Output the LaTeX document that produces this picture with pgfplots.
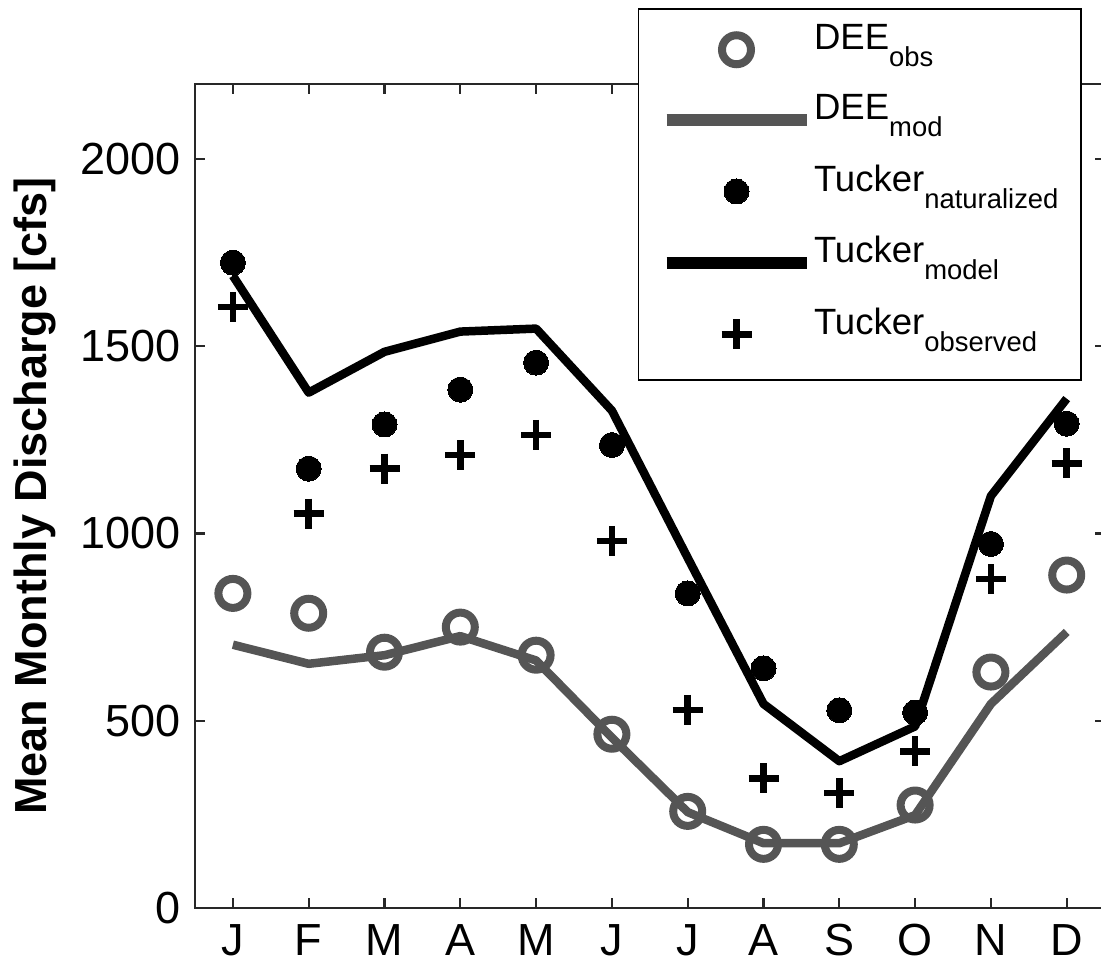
\documentclass[border=0pt]{standalone}
\usepackage{pgfplots}
\pgfplotsset{compat=1.18}
\usepackage{fontspec}
\setmainfont{Liberation Sans}
\definecolor{deegray}{RGB}{85,85,85}
\definecolor{axgray}{RGB}{40,40,40}
\newcommand{\sub}[1]{\raisebox{-4.8pt}{\fontsize{7.8}{8}\selectfont #1}}
\begin{document}
\begin{tikzpicture}
\begin{axis}[
  at={(0,0)}, anchor=south west,
  scale only axis,
  width=90.96mm, height=82.4mm,
  xmin=0.5, xmax=12.5, ymin=0, ymax=2200,
  xtick={1,2,3,4,5,6,7,8,9,10,11,12},
  xticklabels={J,F,M,A,M,J,J,A,S,O,N,D},
  ytick={0,500,1000,1500,2000},
  /pgf/number format/assume math mode=true,
  /pgf/number format/1000 sep={},
  tick align=inside,
  major tick length=1mm,
  tick style={axgray, line width=0.6pt},
  axis line style={axgray, line width=0.6pt},
  ticklabel style={font=\fontsize{12.8}{14}\selectfont, text=black},
  xticklabel style={inner sep=4.5pt},
  yticklabel style={inner sep=3.8pt},
  ylabel={\textbf{Mean Monthly Discharge [cfs]}},
  ylabel style={font=\fontsize{12.8}{14}\selectfont, at={(axis description cs:-0.1517,0.5)}, anchor=south, inner sep=0pt},
  legend style={
    at={(axis description cs:0.975,1.092)}, anchor=north east,
    draw=black, line width=0.5pt, fill=white,
    font=\fontsize{10.4}{12.5}\selectfont,
    inner xsep=1.9mm, inner ysep=1.2mm,
    row sep=0.8mm,
    nodes={inner sep=1pt, anchor=base west, text depth=3.0mm},
  },
  legend image code/.code={%
    \path[draw=none, fill=none, use as bounding box] (-0.9mm,-1.25mm) rectangle (14.4mm,1.9mm);
    \draw[mark repeat=2,mark phase=2,#1,line width=1.2mm] plot coordinates {(0mm,0mm) (7mm,0mm) (14mm,0mm)};},
]
\addplot[only marks, mark=o, mark size=1.45mm, mark options={draw=deegray, line width=0.8mm}] coordinates {
(1,840) (2,787) (3,683) (4,750) (5,675) (6,464) (7,258) (8,170) (9,170) (10,275) (11,630) (12,889)};
\addlegendentry{DEE\sub{obs}}
\addplot[deegray, line width=0.85mm, line join=round, no marks] coordinates {
(1,703) (2,652) (3,675) (4,726) (5,661) (6,455) (7,256) (8,173) (9,173) (10,248) (11,545) (12,737)};
\addlegendentry{DEE\sub{mod}}
\addplot[only marks, mark=*, mark size=1.25mm, mark options={fill=black, draw=black, line width=0pt}] coordinates {
(1,1723) (2,1173) (3,1291) (4,1384) (5,1456) (6,1236) (7,840) (8,640) (9,528) (10,522) (11,972) (12,1293)};
\addlegendentry{Tucker\sub{naturalized}}
\addplot[black, line width=0.85mm, line join=round, no marks] coordinates {
(1,1688) (2,1376) (3,1485) (4,1539) (5,1547) (6,1328) (7,935) (8,545) (9,392) (10,485) (11,1100) (12,1360)};
\addlegendentry{Tucker\sub{model}}
\addplot[only marks, mark=+, mark size=1.5mm, mark options={draw=black, line width=0.65mm}] coordinates {
(1,1604) (2,1053) (3,1173) (4,1209) (5,1263) (6,980) (7,529) (8,346) (9,307) (10,418) (11,878) (12,1187)};
\addlegendentry{Tucker\sub{observed}}
\end{axis}
\pgfresetboundingbox
\path[use as bounding box] (-19.5mm,-5.8mm) rectangle (90.6mm,90.8mm);
\end{tikzpicture}
\end{document}
